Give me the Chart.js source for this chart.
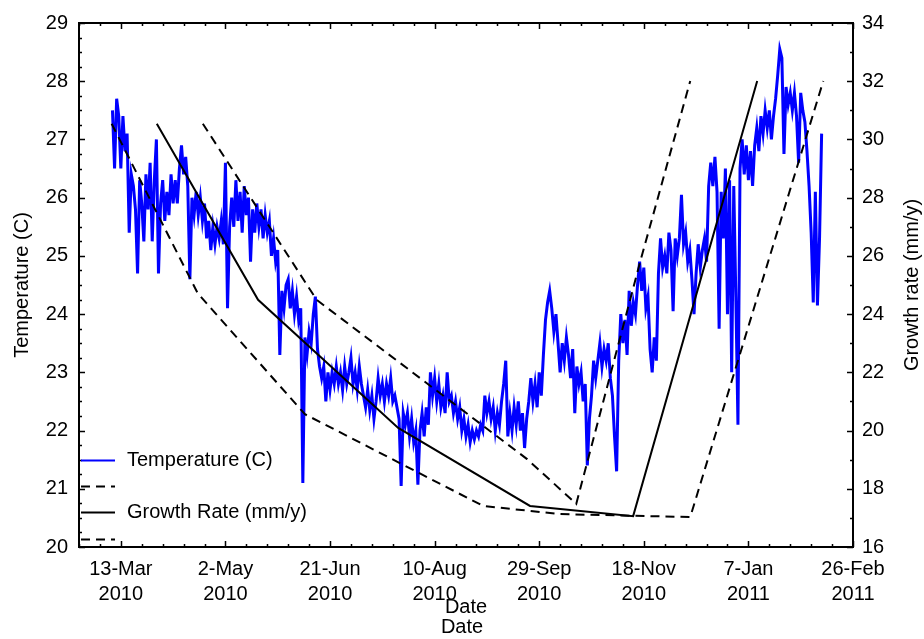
<!DOCTYPE html>
<html>
<head>
<meta charset="utf-8">
<title>Temperature and growth rate</title>
<script src="https://cdn.jsdelivr.net/npm/chart.js@4.4.1/dist/chart.umd.min.js"></script>
<style>
  html, body { margin: 0; padding: 0; background: #fff; }
  #wrap { width: 924px; height: 639px; }
</style>
</head>
<body>
<div id="wrap"><canvas id="tempChart" width="924" height="639"></canvas></div>
<script>
// Trục x: số ngày kể từ 21-Feb-2010
const xTickDays = [20, 70, 120, 170, 220, 270, 320, 370];
const xTickLabels = [['13-Mar', '2010'], ['2-May', '2010'], ['21-Jun', '2010'], ['10-Aug', '2010'],
                     ['29-Sep', '2010'], ['18-Nov', '2010'], ['7-Jan', '2011'], ['26-Feb', '2011']];

// Nhiệt độ hằng ngày, bắt đầu từ ngày 16
const tempStartDay = 16;
const temps = [
  27.5, 26.5, 27.7, 27.4, 26.5, 27.4, 26.8, 27.1, 25.4, 26.4,
  26.2, 25.8, 24.7, 26.3, 25.9, 25.25, 26.4, 25.8, 26.6, 25.25,
  26.3, 27.0, 24.7, 25.9, 26.3, 25.6, 26.1, 25.7, 26.4, 25.9,
  26.3, 25.9, 26.5, 26.9, 26.4, 26.7, 26.2, 24.6, 26.0, 25.7,
  26.1, 25.7, 26.0, 25.6, 25.9, 25.3, 25.6, 25.1, 25.5, 25.2,
  25.5, 25.3, 25.6, 25.2, 26.6, 24.1, 25.5, 26.0, 25.5, 26.3,
  25.6, 26.1, 25.4, 26.2, 25.7, 26.0, 24.9, 25.8, 25.4, 25.9,
  25.5, 25.8, 25.3, 25.7, 25.4, 25.6, 25.0, 25.3, 24.9, 25.1,
  23.3, 24.4, 24.1, 24.5, 24.6, 24.1, 24.4, 24.0, 24.3, 23.9,
  24.1, 21.1, 23.6, 23.3, 23.7, 23.5, 24.0, 24.3, 23.4, 23.1,
  22.9, 23.1, 22.5, 23.0, 22.7, 23.0, 22.8, 23.1, 22.8, 23.0,
  22.7, 23.1, 22.8, 23.0, 23.25, 22.8, 23.0, 22.7, 23.1, 22.8,
  22.6, 22.4, 22.7, 22.35, 22.6, 22.2, 22.5, 22.9, 22.6, 22.8,
  22.5, 22.8, 22.6, 22.9, 22.5, 22.6, 22.4, 22.2, 21.05, 22.3,
  22.1, 22.3, 21.9, 22.2, 21.8, 22.0, 21.07, 22.0, 22.3, 21.9,
  22.4, 22.1, 23.0, 22.6, 22.9, 22.5, 22.8, 22.4, 22.6, 22.3,
  23.0, 22.5, 22.6, 22.3, 22.5, 22.2, 22.4, 22.0, 22.2, 21.9,
  22.1, 21.8, 22.0, 21.85, 22.0, 21.9, 22.1, 22.0, 22.6, 22.3,
  22.5, 22.2, 22.4, 22.0, 22.3, 22.1, 22.5, 22.8, 23.2, 21.9,
  22.3, 22.0, 22.4, 22.1, 22.5, 22.0, 22.3, 21.7, 22.2, 22.5,
  22.9, 22.5, 22.8, 22.4, 23.0, 22.6, 23.3, 23.9, 24.2, 24.4,
  24.1, 23.7, 24.0, 23.5, 23.0, 23.5, 23.2, 23.6, 23.3, 22.9,
  23.4, 22.3, 23.1, 22.8, 23.0, 22.5, 22.8, 21.4, 22.2, 22.6,
  23.2, 22.9, 23.2, 23.5, 23.1, 23.4, 23.2, 23.5, 22.9, 22.6,
  21.9, 21.3, 23.2, 24.0, 23.5, 23.9, 23.3, 24.4, 23.8, 24.2,
  24.0, 24.5, 24.9, 24.4, 24.8, 24.1, 24.3, 23.4, 23.0, 23.6,
  23.2, 24.7, 25.3, 24.8, 25.0, 24.7, 25.4, 25.1, 24.05, 25.3,
  25.0, 25.3, 26.05, 25.2, 25.4, 24.9, 25.1, 24.6, 24.0, 24.7,
  25.2, 24.8, 25.1, 25.3, 24.9, 26.2, 26.6, 26.2, 26.7, 26.1,
  23.75, 26.1, 25.3, 26.5, 24.0, 26.3, 23.0, 26.2, 24.3, 22.1,
  26.5, 27.0, 26.4, 26.9, 26.3, 26.8, 26.2, 26.9, 27.2, 26.8,
  27.4, 27.1, 27.5, 27.2, 27.5, 27.0, 27.4, 27.7, 28.1, 28.55,
  28.4, 26.75, 27.9, 27.6, 27.8, 27.5, 27.8, 27.4, 26.6, 27.8,
  27.5, 27.3, 26.8, 26.2, 25.4, 24.2, 26.1, 24.15, 25.3, 27.1
];

// Tốc độ tăng trưởng (trục phải) và hai đường giới hạn
const growthDays = [37.2, 85.6, 152.6, 215.6, 264.9, 324.2];
const growthRate = [30.54, 24.49, 20.09, 17.41, 17.06, 32.01];
const earlyDays = [15.6, 56.8, 108.0, 193.2, 230.0, 292.2, 355.8];
const earlyRate = [30.54, 24.71, 20.56, 17.41, 17.13, 17.03, 32.01];
const lateDays = [59.2, 113.6, 214.2, 237.7, 268.3, 292.2];
const lateRate = [30.54, 24.49, 19.02, 17.48, 25.81, 32.01];

function pairs(xs, ys) {
  return xs.map((x, i) => ({ x: x, y: ys[i] }));
}

// Khung và vạch chia hướng vào trong
const frameTicks = {
  id: 'frameTicks',
  afterDraw(chart) {
    const ctx = chart.ctx;
    const a = chart.chartArea;
    const sx = chart.scales.x, sy = chart.scales.y, sy1 = chart.scales.y1;
    ctx.save();
    ctx.strokeStyle = '#000';
    ctx.lineWidth = 1.5;
    ctx.beginPath();
    for (let d = 0; d <= 370; d += 10) {
      const px = Math.round(sx.getPixelForValue(d)) + 0.5;
      const len = xTickDays.includes(d) ? 6 : 3;
      ctx.moveTo(px, a.bottom); ctx.lineTo(px, a.bottom - len);
      ctx.moveTo(px, a.top); ctx.lineTo(px, a.top + len);
    }
    for (let v = 20; v <= 29; v += 0.25) {
      const py = Math.round(sy.getPixelForValue(v)) + 0.5;
      const len = Number.isInteger(v) ? 6 : 3;
      ctx.moveTo(a.left, py); ctx.lineTo(a.left + len, py);
    }
    for (let v = 16; v <= 34; v += 1) {
      const py = Math.round(sy1.getPixelForValue(v)) + 0.5;
      const len = v % 2 === 0 ? 6 : 3;
      ctx.moveTo(a.right, py); ctx.lineTo(a.right - len, py);
    }
    ctx.stroke();
    ctx.lineWidth = 2;
    ctx.strokeRect(a.left, a.top, a.right - a.left, a.bottom - a.top);
    ctx.restore();
  }
};

// Chú thích nằm trong vùng vẽ, góc dưới trái
const insideLegend = {
  id: 'insideLegend',
  afterDraw(chart) {
    const ctx = chart.ctx;
    const a = chart.chartArea;
    ctx.save();
    ctx.font = '20px "Liberation Sans", Arial, sans-serif';
    ctx.textBaseline = 'middle';
    ctx.fillStyle = '#000';
    chart.data.datasets.forEach((ds, i) => {
      const y = Math.round(a.bottom - 87.5 + i * 26.4) + 0.5;
      ctx.strokeStyle = ds.borderColor;
      ctx.lineWidth = Math.min(ds.borderWidth, 2);
      ctx.setLineDash(ds.borderDash || []);
      ctx.beginPath();
      ctx.moveTo(a.left + 2, y);
      ctx.lineTo(a.left + 36, y);
      ctx.stroke();
      if (ds.label) ctx.fillText(ds.label, a.left + 48, y);
    });
    ctx.restore();
  }
};

// Tiêu đề trục phải, đọc từ dưới lên
const rightTitle = {
  id: 'rightTitle',
  afterDraw(chart) {
    const ctx = chart.ctx;
    const a = chart.chartArea;
    ctx.save();
    ctx.translate(912, (a.top + a.bottom) / 2);
    ctx.rotate(-Math.PI / 2);
    ctx.font = '20px "Liberation Sans", Arial, sans-serif';
    ctx.fillStyle = '#000';
    ctx.textAlign = 'center';
    ctx.textBaseline = 'middle';
    ctx.fillText('Growth rate (mm/y)', 0, 0);
    ctx.restore();
  }
};

function initTempChart() {
  const ctx = document.getElementById('tempChart');
  Chart.defaults.font.family = '"Liberation Sans", Arial, sans-serif';
  Chart.defaults.color = '#000';
  new Chart(ctx.getContext('2d'), {
    type: 'line',
    data: {
      datasets: [{
        label: 'Temperature (C)',
        data: temps.map((t, i) => ({ x: tempStartDay + i, y: t })),
        yAxisID: 'y',
        borderColor: '#0000ff',
        borderWidth: 3,
        pointRadius: 0,
        order: 1
      }, {
        label: '',
        data: pairs(earlyDays, earlyRate),
        yAxisID: 'y1',
        borderColor: '#000',
        borderWidth: 2,
        borderDash: [9, 6],
        pointRadius: 0,
        order: 0
      }, {
        label: 'Growth Rate (mm/y)',
        data: pairs(growthDays, growthRate),
        yAxisID: 'y1',
        borderColor: '#000',
        borderWidth: 2,
        pointRadius: 0,
        order: 0
      }, {
        label: '',
        data: pairs(lateDays, lateRate),
        yAxisID: 'y1',
        borderColor: '#000',
        borderWidth: 2,
        borderDash: [9, 6],
        pointRadius: 0,
        order: 0
      }]
    },
    options: {
      responsive: false,
      animation: false,
      devicePixelRatio: 1,
      layout: { padding: { top: 21, left: 0, right: 0, bottom: 0 } },
      plugins: {
        legend: { display: false },
        tooltip: { enabled: false },
        title: {
          display: true,
          text: 'Date',
          position: 'bottom',
          color: '#000',
          font: { size: 20, weight: 'normal' },
          padding: { top: 0, bottom: 0 }
        }
      },
      scales: {
        x: {
          type: 'linear',
          min: 0,
          max: 370,
          grid: { display: false, drawTicks: false },
          border: { display: false },
          ticks: {
            stepSize: 10,
            autoSkip: false,
            maxRotation: 0,
            padding: 10,
            font: { size: 20, lineHeight: 1.25 },
            callback: function(value) {
              const i = xTickDays.indexOf(value);
              return i >= 0 ? xTickLabels[i] : '';
            }
          },
          title: {
            display: true,
            text: 'Date',
            font: { size: 20 },
            padding: { top: 0, bottom: -4 }
          },
          afterFit: function(scale) { scale.height = 68; }
        },
        y: {
          position: 'left',
          min: 20,
          max: 29,
          grid: { display: false, drawTicks: false },
          border: { display: false },
          ticks: { stepSize: 1, padding: 11, font: { size: 20 } },
          title: {
            display: true,
            text: 'Temperature (C)',
            font: { size: 20 },
            padding: { top: 10, bottom: 0 }
          },
          afterFit: function(scale) { scale.width = 79; }
        },
        y1: {
          position: 'right',
          min: 16,
          max: 34,
          grid: { display: false, drawTicks: false },
          border: { display: false },
          ticks: { stepSize: 2, padding: 9, font: { size: 20 } },
          afterFit: function(scale) { scale.width = 71; }
        }
      }
    },
    plugins: [frameTicks, insideLegend, rightTitle]
  });
}

document.addEventListener('DOMContentLoaded', function() {
  initTempChart();
});
</script>
</body>
</html>
